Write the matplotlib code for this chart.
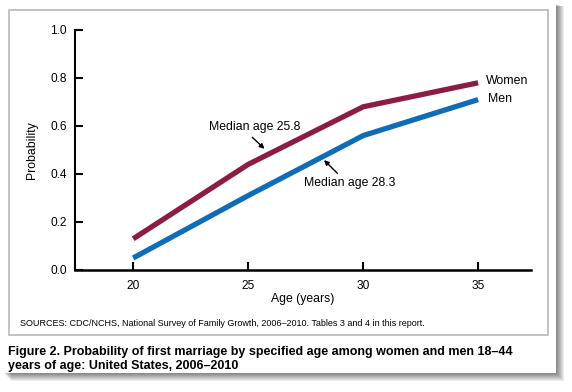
import matplotlib.pyplot as plt
from matplotlib.patches import Rectangle

plt.rcParams['font.family'] = ['Liberation Sans', 'DejaVu Sans']

ages = [20, 25, 30, 35]
women = [0.13, 0.44, 0.68, 0.78]
men = [0.05, 0.31, 0.56, 0.71]
y_ticks = [0.0, 0.2, 0.4, 0.6, 0.8, 1.0]

women_color = '#8C1B45'
men_color = '#0F6CB6'

W, H = 572, 392
fig = plt.figure(figsize=(W / 100, H / 100), dpi=100)


def px_rect(x0, y0, x1, y1, **kw):
    # rectangle in pixel coords (origin top-left)
    return Rectangle((x0 / W, 1 - y1 / H), (x1 - x0) / W, (y1 - y0) / H,
                     transform=fig.transFigure, **kw)


# page shadow
for i in range(8):
    off = 8 - i
    fig.patches.append(px_rect(3 + off, 4 + off * 0.3, 556 + off, 373 + off,
                               facecolor='black', alpha=0.07,
                               edgecolor='none', zorder=0))
fig.patches.append(px_rect(2, 0, 556, 373, facecolor='white',
                           edgecolor='none', zorder=1))
fig.patches.append(px_rect(9, 10, 548, 335, facecolor='none',
                           edgecolor='#b8b8b8', lw=1.2, zorder=2))

ax = fig.add_axes([75 / W, 1 - 270 / H, (531 - 75) / W, 240 / H])
ax.set_zorder(3)
ax.patch.set_alpha(0)

ax.plot(ages, women, color=women_color, lw=3.8, solid_capstyle='butt')
ax.plot(ages, men, color=men_color, lw=3.8, solid_capstyle='butt')

ax.set_xlim(17.47, 37.3)
ax.set_ylim(0, 1.0)
ax.set_xticks(ages)
ax.set_yticks(y_ticks)
ax.set_yticklabels(['%.1f' % v for v in y_ticks])
ax.spines['top'].set_visible(False)
ax.spines['right'].set_visible(False)
ax.spines['left'].set_linewidth(1.5)
ax.spines['bottom'].set_linewidth(1.8)
ax.tick_params(direction='in', length=6, width=1.5, labelsize=8.6)
ax.tick_params(axis='x', pad=7)
ax.tick_params(axis='y', pad=6)
ax.set_xlabel('Age (years)', fontsize=8.8, labelpad=1)
ax.set_ylabel('Probability', fontsize=8.8, labelpad=9)

ax.text(35.35, 0.775, 'Women', fontsize=8.9, va='baseline', ha='left')
ax.text(35.42, 0.70, 'Men', fontsize=8.9, va='baseline', ha='left')

ax.text(23.3, 0.583, 'Median age 25.8', fontsize=8.8, ha='left', va='baseline')
ax.annotate('', xy=(25.71, 0.505), xytext=(25.18, 0.553),
            arrowprops=dict(arrowstyle='-|>', lw=1, color='black',
                            mutation_scale=7, shrinkA=0, shrinkB=0))
ax.text(27.43, 0.35, 'Median age 28.3', fontsize=8.8, ha='left', va='baseline')
ax.annotate('', xy=(28.30, 0.458), xytext=(28.88, 0.403),
            arrowprops=dict(arrowstyle='-|>', lw=1, color='black',
                            mutation_scale=7, shrinkA=0, shrinkB=0))

fig.text(19.5 / W, 1 - 326 / H,
         'SOURCES: CDC/NCHS, National Survey of Family Growth, 2006\u20132010. '
         'Tables 3 and 4 in this report.', fontsize=6.5, va='baseline', zorder=4)
fig.text(8 / W, 1 - 354.5 / H,
         'Figure 2. Probability of first marriage by specified age among women and men 18\u201344',
         fontsize=9.0, fontweight='bold', va='baseline', zorder=4)
fig.text(8 / W, 1 - 369 / H, 'years of age: United States, 2006\u20132010',
         fontsize=9.0, fontweight='bold', va='baseline', zorder=4)

fig.savefig('out.png', dpi=100)
